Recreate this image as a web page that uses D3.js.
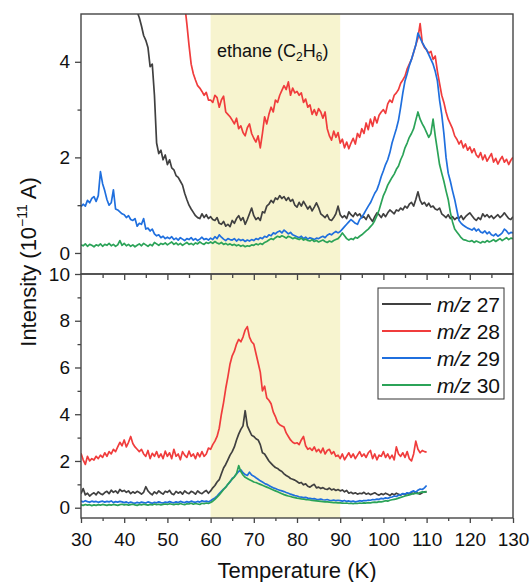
<!DOCTYPE html>
<html>
<head>
<meta charset="utf-8">
<script src="https://d3js.org/d3.v7.min.js"></script>
<style>
  body { margin: 0; background: #fff; }
  text { font-family: "Liberation Sans", Arial, sans-serif; fill: #111; }
</style>
</head>
<body>
<div id="chart"></div>
<script>
// traces are sampled every 0.5 K starting at 30 K
const tStart = 30
const tStep = 0.5

const seriesNames = ['27', '28', '29', '30']
const seriesColors = ['#404040', '#f03c3c', '#1f6fde', '#2ba358']

// upper panel, 30 - 130 K
const top27 = [
  9.6,9.4,9.3,9.1,8.9,8.8,8.6,8.4,8.2,8.0,7.8,7.6,7.4,7.2,7.0,6.8,6.6,6.4,6.2,6.0,
  5.85,5.7,5.55,5.4,5.3,5.15,5.05,4.92,4.75,4.55,4.45,4.3,3.9,3.95,3.3,2.3,2.08,2.15,1.95,2.05,
  1.85,1.95,1.78,1.74,1.62,1.58,1.5,1.42,1.25,1.12,1.0,0.92,0.85,0.78,0.74,0.72,0.82,0.74,0.8,0.72,
  0.76,0.7,0.68,0.74,0.62,0.6,0.66,0.56,0.6,0.55,0.68,0.62,0.72,0.78,0.68,0.74,0.6,0.7,0.82,0.94,
  0.78,0.7,0.74,0.68,0.86,0.84,0.98,1.02,1.1,1.05,1.15,1.12,1.2,1.14,1.18,1.1,1.16,1.08,1.12,1.0,
  0.96,1.06,0.98,1.08,1.0,0.92,0.98,0.88,0.96,1.05,0.95,0.82,0.78,0.74,0.8,0.7,0.68,0.74,0.82,0.98,
  0.8,0.74,0.78,0.72,0.86,0.8,0.76,0.84,0.78,0.82,0.74,0.76,0.7,0.8,0.72,0.66,0.76,0.84,0.8,0.74,
  0.82,0.76,0.84,0.9,0.86,0.82,0.9,0.88,0.94,0.9,0.98,0.94,1.02,1.06,0.98,1.12,1.28,1.1,1.02,1.06,
  0.98,1.04,0.96,0.98,0.92,0.9,0.94,0.82,0.78,0.74,0.8,0.72,0.76,0.7,0.74,0.72,0.78,0.7,0.76,0.8,
  0.84,0.78,0.72,0.68,0.74,0.7,0.82,0.76,0.8,0.74,0.78,0.72,0.76,0.8,0.74,0.78,0.84,0.78,0.72,0.7,
  0.76
]
const top28 = [
  11,10.8,10.6,10.4,10.2,10,9.8,9.6,9.4,9.2,9,8.8,8.6,8.4,8.2,8.1,8,7.9,7.8,7.7,
  7.6,7.5,7.4,7.3,7.2,7.1,7,6.9,6.8,6.7,6.6,6.5,6.4,6.35,6.3,6.2,6.1,6.05,6,5.95,
  5.9,5.85,5.8,5.75,5.7,5.6,5.5,5.4,5.2,4.8,4.35,3.95,3.75,3.62,3.5,3.45,3.38,3.3,3.36,3.2,
  3.2,3.15,3.3,3.25,3.05,3.2,3.28,2.95,2.9,2.85,2.78,2.7,2.82,2.6,2.66,2.52,2.45,2.62,2.7,2.5,
  2.4,2.32,2.45,2.2,2.5,2.85,2.7,2.9,3.05,2.95,3.2,3.15,3.3,3.4,3.5,3.42,3.58,3.3,3.45,3.35,
  3.38,3.3,3.35,3.15,3.22,3.05,3.1,2.9,3.0,2.88,3.02,2.95,2.82,2.95,2.6,2.45,2.36,2.55,2.42,2.52,
  2.3,2.38,2.2,2.32,2.18,2.3,2.4,2.28,2.5,2.42,2.6,2.5,2.72,2.58,2.8,2.65,2.85,2.72,2.88,2.95,
  3.0,2.92,3.12,3.2,3.15,3.3,3.35,3.42,3.55,3.62,3.7,3.85,3.95,4.05,4.2,4.35,4.5,4.8,4.4,4.3,
  4.25,4.18,4.22,4.05,4.12,3.8,3.55,3.3,3.15,2.95,2.8,2.7,2.6,2.45,2.38,2.28,2.35,2.2,2.28,2.15,
  2.22,2.1,2.18,2.05,2.0,2.1,1.95,2.05,1.92,2.0,2.08,1.9,1.98,1.86,1.95,2.02,1.9,1.96,1.85,1.94,
  2.0
]
const top29 = [
  0.97,1.02,0.98,1.1,1.05,1.14,1.18,1.08,1.2,1.7,1.45,1.3,1.12,1.0,1.05,1.32,0.92,0.9,0.86,0.82,
  0.8,0.74,0.78,0.7,0.68,0.72,0.56,0.62,0.6,0.72,0.5,0.52,0.46,0.5,0.4,0.36,0.38,0.32,0.35,0.3,
  0.33,0.3,0.34,0.28,0.31,0.27,0.32,0.29,0.26,0.3,0.28,0.32,0.27,0.3,0.26,0.29,0.33,0.28,0.3,0.27,
  0.31,0.28,0.34,0.3,0.38,0.33,0.29,0.26,0.3,0.28,0.27,0.3,0.25,0.29,0.26,0.28,0.24,0.27,0.25,0.28,
  0.26,0.3,0.28,0.32,0.3,0.35,0.33,0.38,0.36,0.42,0.4,0.44,0.46,0.42,0.48,0.44,0.4,0.43,0.38,0.36,
  0.34,0.32,0.35,0.3,0.33,0.29,0.32,0.3,0.28,0.31,0.3,0.33,0.35,0.32,0.37,0.4,0.38,0.42,0.45,0.42,
  0.45,0.5,0.55,0.6,0.65,0.7,0.66,0.62,0.6,0.7,0.75,0.82,0.9,0.98,1.05,1.15,1.25,1.32,1.45,1.6,
  1.72,1.85,1.95,2.1,2.3,2.45,2.6,2.78,3.05,3.35,3.6,3.75,3.92,4.05,4.2,4.35,4.6,4.5,4.4,4.32,
  4.25,4.15,4.05,3.95,3.8,3.6,3.2,2.9,2.5,2.0,1.67,1.5,1.3,1.12,0.9,0.68,0.62,0.58,0.55,0.52,
  0.5,0.48,0.52,0.46,0.5,0.44,0.42,0.46,0.4,0.44,0.38,0.36,0.4,0.35,0.38,0.42,0.5,0.46,0.4,0.43,
  0.42
]
const top30 = [
  0.17,0.15,0.19,0.14,0.18,0.16,0.13,0.17,0.15,0.19,0.14,0.18,0.16,0.2,0.15,0.18,0.14,0.17,0.26,0.16,
  0.2,0.15,0.18,0.14,0.17,0.13,0.16,0.19,0.15,0.2,0.17,0.14,0.18,0.15,0.22,0.19,0.16,0.2,0.18,0.21,
  0.17,0.2,0.23,0.18,0.21,0.17,0.2,0.16,0.19,0.22,0.18,0.2,0.17,0.21,0.19,0.23,0.2,0.18,0.22,0.2,
  0.23,0.2,0.24,0.21,0.19,0.22,0.18,0.2,0.17,0.19,0.16,0.18,0.15,0.17,0.14,0.16,0.13,0.15,0.14,0.17,
  0.16,0.19,0.17,0.2,0.18,0.22,0.24,0.27,0.3,0.28,0.32,0.35,0.33,0.36,0.34,0.31,0.35,0.33,0.3,0.32,
  0.3,0.28,0.31,0.27,0.29,0.26,0.25,0.28,0.24,0.26,0.23,0.25,0.27,0.24,0.22,0.25,0.23,0.26,0.28,0.3,
  0.35,0.42,0.36,0.3,0.27,0.3,0.28,0.33,0.31,0.35,0.38,0.42,0.46,0.5,0.55,0.6,0.68,0.78,0.9,1.05,
  1.2,1.3,1.42,1.5,1.58,1.65,1.75,1.82,1.95,2.05,2.2,2.3,2.42,2.5,2.6,2.78,2.95,2.8,2.7,2.62,
  2.52,2.42,2.5,2.8,2.45,2.15,1.85,1.67,1.5,1.3,1.12,0.85,0.65,0.5,0.44,0.38,0.32,0.28,0.27,0.25,
  0.24,0.26,0.22,0.25,0.23,0.21,0.24,0.22,0.26,0.23,0.25,0.28,0.24,0.27,0.3,0.26,0.29,0.32,0.28,0.31,
  0.3
]

// lower panel, 30 - 110 K
const bot27 = [
  0.6,0.82,0.55,0.62,0.5,0.58,0.64,0.55,0.68,0.6,0.56,0.65,0.7,0.6,0.75,0.66,0.72,0.62,0.78,0.7,
  0.74,0.66,0.72,0.6,0.68,0.62,0.7,0.65,0.58,0.66,0.9,0.72,0.62,0.55,0.68,0.6,0.72,0.64,0.58,0.7,
  0.66,0.74,0.6,0.56,0.7,0.62,0.68,0.58,0.72,0.64,0.6,0.7,0.66,0.58,0.72,0.64,0.6,0.68,0.74,0.62,
  0.72,0.85,0.95,1.1,1.2,1.45,1.7,1.85,2.05,2.25,2.4,2.6,2.9,3.15,3.35,3.5,4.15,3.5,3.3,3.1,
  3.05,2.95,2.9,2.7,2.35,2.3,2.15,2.0,1.9,1.8,1.72,1.68,1.6,1.55,1.45,1.38,1.33,1.25,1.22,1.18,
  1.12,1.05,1.08,0.98,1.02,0.92,0.88,0.95,1.0,0.85,0.88,0.82,0.86,0.8,0.78,0.84,0.76,0.8,0.74,0.78,
  0.72,0.76,0.68,0.74,0.62,0.66,0.6,0.64,0.58,0.62,0.6,0.66,0.58,0.62,0.56,0.6,0.64,0.58,0.54,0.6,
  0.56,0.62,0.58,0.52,0.6,0.55,0.62,0.58,0.54,0.6,0.56,0.62,0.58,0.64,0.6,0.66,0.62,0.58,0.64,0.68,
  0.66
]
const bot28 = [
  2.33,2.05,1.85,2.2,2.0,2.1,2.04,2.2,2.1,2.25,2.15,2.35,2.2,2.4,2.3,2.5,2.4,2.6,2.8,2.65,
  2.9,2.6,2.8,3.05,2.75,2.6,2.5,2.4,2.5,2.3,2.2,2.45,2.1,2.33,2.2,2.4,2.15,2.3,2.1,2.42,
  2.2,2.35,2.1,2.5,2.2,2.3,2.05,2.4,2.25,2.15,2.42,2.2,2.3,2.1,2.35,2.18,2.4,2.2,2.3,2.55,
  2.5,2.7,2.85,3.05,3.4,4.0,4.5,5.1,5.6,6.15,6.5,6.7,7.0,7.2,7.1,7.3,7.6,7.75,7.3,7.1,
  7.0,6.6,6.2,5.8,5.0,5.2,4.7,4.6,4.45,4.1,3.9,3.65,3.55,3.5,3.45,3.2,3.05,2.9,2.8,2.75,
  2.78,2.7,2.9,3.05,2.65,2.5,2.55,2.45,2.6,2.4,2.5,2.35,2.55,2.3,2.45,2.5,2.3,2.4,2.2,2.25,
  2.1,2.3,2.05,2.2,2.35,2.15,2.3,2.1,2.25,2.4,2.2,2.3,2.15,2.35,2.45,2.1,2.3,2.05,2.25,2.2,
  2.4,2.15,2.3,2.1,2.25,2.05,2.6,2.3,2.2,2.35,2.15,2.4,2.1,2.0,2.3,2.85,2.5,2.35,2.45,2.4,
  2.38
]
const bot29 = [
  0.28,0.25,0.3,0.26,0.24,0.28,0.25,0.27,0.23,0.26,0.28,0.24,0.27,0.25,0.29,0.22,0.26,0.24,0.27,0.25,
  0.22,0.25,0.2,0.24,0.21,0.19,0.23,0.2,0.24,0.22,0.2,0.25,0.22,0.19,0.23,0.21,0.25,0.22,0.2,0.24,
  0.22,0.26,0.23,0.21,0.25,0.22,0.27,0.24,0.22,0.26,0.23,0.28,0.25,0.23,0.27,0.24,0.3,0.26,0.28,0.25,
  0.3,0.36,0.42,0.5,0.6,0.7,0.8,0.88,1.0,1.1,1.25,1.32,1.45,1.55,1.62,1.5,1.42,1.38,1.52,1.4,
  1.35,1.28,1.22,1.15,1.1,1.04,1.0,0.95,0.9,0.85,0.82,0.78,0.75,0.72,0.69,0.65,0.62,0.58,0.55,0.52,
  0.5,0.47,0.45,0.43,0.44,0.41,0.4,0.38,0.39,0.36,0.35,0.37,0.34,0.33,0.35,0.32,0.31,0.33,0.3,0.32,
  0.3,0.28,0.31,0.27,0.29,0.26,0.28,0.25,0.27,0.3,0.28,0.31,0.3,0.33,0.32,0.35,0.34,0.37,0.36,0.4,
  0.38,0.42,0.4,0.44,0.46,0.5,0.48,0.53,0.56,0.6,0.58,0.64,0.62,0.68,0.72,0.66,0.75,0.8,0.78,0.85,
  0.95
]
const bot30 = [
  0.12,0.1,0.14,0.11,0.13,0.09,0.12,0.1,0.13,0.11,0.14,0.12,0.1,0.13,0.11,0.14,0.12,0.1,0.13,0.15,
  0.12,0.14,0.11,0.13,0.15,0.12,0.1,0.14,0.12,0.15,0.13,0.11,0.14,0.12,0.16,0.13,0.15,0.12,0.14,0.16,
  0.14,0.17,0.15,0.13,0.16,0.14,0.18,0.15,0.13,0.17,0.16,0.19,0.15,0.18,0.16,0.14,0.19,0.17,0.2,0.18,
  0.22,0.28,0.36,0.45,0.55,0.66,0.78,0.88,1.0,1.12,1.22,1.32,1.45,1.8,1.55,1.4,1.3,1.25,1.2,1.15,
  1.1,1.08,1.04,1.0,0.96,0.92,0.88,0.84,0.8,0.76,0.72,0.68,0.64,0.6,0.56,0.53,0.5,0.48,0.45,0.43,
  0.41,0.4,0.38,0.37,0.35,0.34,0.33,0.31,0.3,0.29,0.28,0.27,0.26,0.25,0.25,0.24,0.23,0.22,0.22,0.21,
  0.21,0.2,0.19,0.2,0.18,0.19,0.17,0.19,0.18,0.2,0.19,0.21,0.2,0.22,0.21,0.23,0.24,0.23,0.26,0.25,
  0.27,0.3,0.28,0.32,0.34,0.36,0.38,0.41,0.44,0.47,0.5,0.53,0.55,0.58,0.6,0.62,0.6,0.65,0.68,0.66,
  0.7
]

const xTicks = [30, 40, 50, 60, 70, 80, 90, 100, 110, 120, 130]
const xMinor = [35, 45, 55, 65, 75, 85, 95, 105, 115, 125]
const topYTicks = [0, 2, 4]
const topYMinor = [1, 3]
const botYTicks = [0, 2, 4, 6, 8, 10]
const botYMinor = [1, 3, 5, 7, 9]
const band = [60, 90]

const topSeries = [top27, top28, top29, top30]
const botSeries = [bot27, bot28, bot29, bot30]

function draw(el) {
  const dims = { width: 530, height: 582, left: 81, right: 513, top: 14, mid: 274, bottom: 518 }
  const frameColor = '#454545'

  const svg = d3.select(el).append('svg')
    .attr('width', dims.width)
    .attr('height', dims.height)

  const x = d3.scaleLinear().domain([30, 130]).range([dims.left, dims.right])
  const yTop = d3.scaleLinear().domain([-0.44, 5]).range([dims.mid, dims.top])
  const yBot = d3.scaleLinear().domain([-0.44, 10]).range([dims.bottom, dims.mid])

  // shaded ethane window
  svg.append('rect')
    .attr('x', x(band[0]))
    .attr('y', dims.top)
    .attr('width', x(band[1]) - x(band[0]))
    .attr('height', dims.bottom - dims.top)
    .attr('fill', '#f7f4cf')

  const defs = svg.append('defs')
  defs.append('clipPath').attr('id', 'clipTop').append('rect')
    .attr('x', dims.left).attr('y', dims.top)
    .attr('width', dims.right - dims.left).attr('height', dims.mid - dims.top)
  defs.append('clipPath').attr('id', 'clipBot').append('rect')
    .attr('x', dims.left).attr('y', dims.mid)
    .attr('width', dims.right - dims.left).attr('height', dims.bottom - dims.mid)

  const tempAt = i => tStart + i * tStep

  const topLine = d3.line().x((d, i) => x(tempAt(i))).y(d => yTop(d))
  const botLine = d3.line().x((d, i) => x(tempAt(i))).y(d => yBot(d))

  svg.append('g').attr('clip-path', 'url(#clipTop)')
    .selectAll('path').data(topSeries).join('path')
    .attr('d', topLine)
    .attr('fill', 'none')
    .attr('stroke', (d, i) => seriesColors[i])
    .attr('stroke-width', 1.7)
    .attr('stroke-linejoin', 'round')

  svg.append('g').attr('clip-path', 'url(#clipBot)')
    .selectAll('path').data(botSeries).join('path')
    .attr('d', botLine)
    .attr('fill', 'none')
    .attr('stroke', (d, i) => seriesColors[i])
    .attr('stroke-width', 1.7)
    .attr('stroke-linejoin', 'round')

  // axes
  function styleAxis(g) {
    g.select('.domain').remove()
    g.selectAll('.tick line').attr('stroke', frameColor).attr('stroke-width', 1.3)
    g.selectAll('.tick text').attr('font-size', 19).attr('fill', '#111')
      .attr('font-family', '"Liberation Sans", Arial, sans-serif')
  }

  svg.append('g').attr('transform', `translate(${dims.left},0)`)
    .call(d3.axisLeft(yTop).tickValues(topYTicks).tickSize(6).tickPadding(5).tickFormat(d3.format('d')))
    .call(styleAxis)
  svg.append('g').attr('transform', `translate(${dims.left},0)`)
    .call(d3.axisLeft(yTop).tickValues(topYMinor).tickSize(3.5).tickFormat(''))
    .call(styleAxis)

  svg.append('g').attr('transform', `translate(${dims.left},0)`)
    .call(d3.axisLeft(yBot).tickValues(botYTicks).tickSize(6).tickPadding(5).tickFormat(d3.format('d')))
    .call(styleAxis)
  svg.append('g').attr('transform', `translate(${dims.left},0)`)
    .call(d3.axisLeft(yBot).tickValues(botYMinor).tickSize(3.5).tickFormat(''))
    .call(styleAxis)

  // bottom axis (outward) and the inner ticks along the panel divider
  svg.append('g').attr('transform', `translate(0,${dims.bottom})`)
    .call(d3.axisBottom(x).tickValues(xTicks).tickSize(5).tickPadding(10).tickFormat(d3.format('d')))
    .call(styleAxis)
  svg.append('g').attr('transform', `translate(0,${dims.bottom})`)
    .call(d3.axisBottom(x).tickValues(xMinor).tickSize(3).tickFormat(''))
    .call(styleAxis)
  svg.append('g').attr('transform', `translate(0,${dims.mid})`)
    .call(d3.axisBottom(x).tickValues(xTicks.slice(1, -1)).tickSize(6).tickFormat(''))
    .call(styleAxis)
  svg.append('g').attr('transform', `translate(0,${dims.mid})`)
    .call(d3.axisBottom(x).tickValues(xMinor).tickSize(4).tickFormat(''))
    .call(styleAxis)

  // frames
  svg.append('rect')
    .attr('x', dims.left).attr('y', dims.top)
    .attr('width', dims.right - dims.left).attr('height', dims.mid - dims.top)
    .attr('fill', 'none').attr('stroke', frameColor).attr('stroke-width', 1.4)
  svg.append('rect')
    .attr('x', dims.left).attr('y', dims.mid)
    .attr('width', dims.right - dims.left).attr('height', dims.bottom - dims.mid)
    .attr('fill', 'none').attr('stroke', frameColor).attr('stroke-width', 1.4)

  // ethane label
  const eth = svg.append('text').attr('x', 217).attr('y', 57).attr('font-size', 18)
  eth.append('tspan').text('ethane (C')
  eth.append('tspan').attr('font-size', 12).attr('dy', 4).text('2')
  eth.append('tspan').attr('dy', -4).text('H')
  eth.append('tspan').attr('font-size', 12).attr('dy', 4).text('6')
  eth.append('tspan').attr('dy', -4).text(')')

  // legend
  const legend = svg.append('g')
  legend.append('rect')
    .attr('x', 378).attr('y', 288).attr('width', 126).attr('height', 111)
    .attr('fill', '#fff').attr('stroke', '#333').attr('stroke-width', 1)
  const items = legend.selectAll('g.item').data(seriesNames).join('g')
    .attr('class', 'item')
    .attr('transform', (d, i) => `translate(0,${304 + i * 27})`)
  items.append('line')
    .attr('x1', 382).attr('x2', 431).attr('y1', 0).attr('y2', 0)
    .attr('stroke', (d, i) => seriesColors[i]).attr('stroke-width', 2)
  const lt = items.append('text').attr('x', 437).attr('y', 7.5).attr('font-size', 21)
  lt.append('tspan').attr('font-style', 'italic').text('m/z')
  lt.append('tspan').text(d => ' ' + d)

  // axis titles
  svg.append('text')
    .attr('x', (dims.left + dims.right) / 2).attr('y', 578)
    .attr('text-anchor', 'middle').attr('font-size', 22)
    .text('Temperature (K)')

  const yl = svg.append('text')
    .attr('transform', 'translate(36,262) rotate(-90)')
    .attr('text-anchor', 'middle').attr('font-size', 22)
  yl.append('tspan').text('Intensity (10')
  yl.append('tspan').attr('font-size', 14).attr('dy', -9).text('\u221211')
  yl.append('tspan').attr('dy', 9).text(' A)')
}

draw('#chart')
</script>
</body>
</html>
